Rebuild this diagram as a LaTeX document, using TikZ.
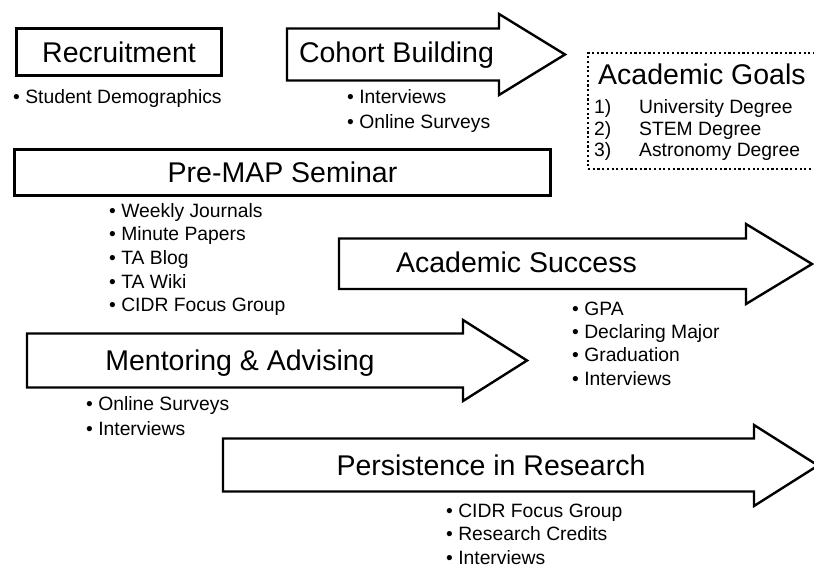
\documentclass[tikz,border=0pt]{standalone}
\usepackage{fontspec}
\setmainfont{Liberation Sans}
\usetikzlibrary{positioning}

\tikzset{
  stagebox/.style={draw,line width=2.6pt,inner sep=0pt},
  stagearrow/.style={draw,line width=2.4pt,line join=miter,fill=white},
  goalbox/.style={draw,line width=2.2pt,dash pattern=on 2.2pt off 2.5pt,inner sep=0pt},
  title/.style={font=\fontsize{28.5}{34}\selectfont,inner sep=0pt},
  measure/.style={font=\fontsize{19.3}{23.7}\selectfont,inner sep=0pt,anchor=base west}
}

\begin{document}
\begin{tikzpicture}[x=1pt,y=-1pt]
	\useasboundingbox (0,0) rectangle (814,567);

	% boxes
	\node[stagebox,title,minimum width=205pt,minimum height=47pt] (recruit) at (119,52) {Recruitment};
	\node[stagebox,title,minimum width=536pt,minimum height=46pt] (premap) at (282.5,172.5) {Pre-MAP Seminar};
	\node[goalbox,minimum width=260pt,minimum height=116pt] (goals) at (718,111) {};

	% arrows
	\foreach \xl/\xh/\xt/\yt/\yb/\ht/\hb in
	{287/499/565/28.5/80.5/14/95, 339/746/812/238.5/289/224/304,
	 27/463/527/333.5/387.5/320/401, 223/754/818/438.5/491.5/425/506}
	\draw[stagearrow] (\xl,\yt) -- (\xh,\yt) -- (\xh,\ht) -- (\xt,{(\ht+\hb)/2})
		-- (\xh,\hb) -- (\xh,\yb) -- (\xl,\yb) -- cycle;

	\node[title,anchor=base] (cohort) at (396.5,62.5) {Cohort Building};
	\node[title,anchor=base] (success) at (516.5,272) {Academic Success};
	\node[title,anchor=base] (mentor) at (240,370) {Mentoring \& Advising};
	\node[title,anchor=base] (persist) at (491,475) {Persistence in Research};
	\node[title,anchor=base west] (goaltitle) at (598,85) {Academic Goals};

	% lists
	\node[measure] (recruit-0) at (13,104) {• Student Demographics};
	\foreach \txt [count=\i from 0] in {Interviews, Online Surveys}
		\node[measure] (cohort-\i) at (347,{104+24.5*\i}) {• \txt};
	\foreach \txt [count=\i from 0] in {Weekly Journals, Minute Papers, TA Blog, TA Wiki, CIDR Focus Group}
		\node[measure] (premap-\i) at (109,{217+23.7*\i}) {• \txt};
	\foreach \txt [count=\i from 0] in {GPA, Declaring Major, Graduation, Interviews}
		\node[measure] (success-\i) at (572,{315+23.4*\i}) {• \txt};
	\foreach \txt [count=\i from 0] in {Online Surveys, Interviews}
		\node[measure] (mentor-\i) at (86,{410+25*\i}) {• \txt};
	\foreach \txt [count=\i from 0] in {CIDR Focus Group, Research Credits, Interviews}
		\node[measure] (persist-\i) at (446,{517+23.5*\i}) {• \txt};
	\foreach \num/\txt [count=\i from 0] in {1)/University Degree, 2)/STEM Degree, 3)/Astronomy Degree}
	{
		\node[measure] (goalnum-\i) at (594,{114+21.5*\i}) {\num};
		\node[measure] (goal-\i) at (639,{114+21.5*\i}) {\txt};
	}
\end{tikzpicture}
\end{document}
